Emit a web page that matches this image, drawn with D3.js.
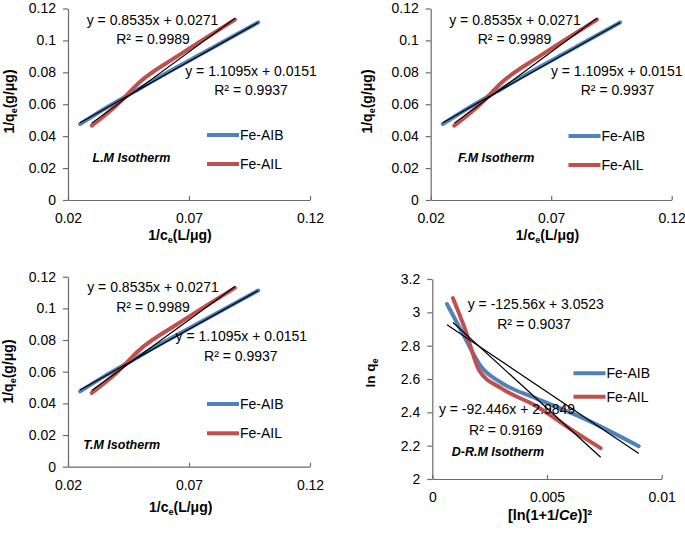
<!DOCTYPE html>
<html><head><meta charset="utf-8">
<script src="https://cdn.jsdelivr.net/npm/d3@7"></script>
<style>body{margin:0;background:#fff}text{font-family:"Liberation Sans",Arial,sans-serif;fill:#000}</style>
</head><body>
<svg id="c" width="685" height="533"></svg>
<script>
// ---------- data ----------
const seriesNames = ["Fe-AIB", "Fe-AIL"];
const seriesColors = ["#4F81BD", "#C0504D"];

const linXTicks = [0.02, 0.07, 0.12];
const linXTickLabels = ["0.02", "0.07", "0.12"];
const linYTicks = [0, 0.02, 0.04, 0.06, 0.08, 0.1, 0.12];
const linYTickLabels = ["0", "0.02", "0.04", "0.06", "0.08", "0.1", "0.12"];

const aibInvCe = [0.0250, 0.0360, 0.0470, 0.0600, 0.0750, 0.0986];
const aibInvQe = [0.0476, 0.0580, 0.0676, 0.0790, 0.0915, 0.1113];
const ailInvCe = [0.0298, 0.0400, 0.0498, 0.0649, 0.0745, 0.0890];
const ailInvQe = [0.0466, 0.0592, 0.0741, 0.0898, 0.0992, 0.1130];

const linTrendSlope = [0.8535, 1.1095];
const linTrendIntercept = [0.0271, 0.0151];
const linEqLabels = ["y = 0.8535x + 0.0271", "R\u00B2 = 0.9989", "y = 1.1095x + 0.0151", "R\u00B2 = 0.9937"];

const drXTicks = [0, 0.005, 0.01];
const drXTickLabels = ["0", "0.005", "0.01"];
const drYTicks = [2, 2.2, 2.4, 2.6, 2.8, 3, 3.2];
const drYTickLabels = ["2", "2.2", "2.4", "2.6", "2.8", "3", "3.2"];

const aibDrX = [0.00064, 0.00130, 0.00215, 0.00300, 0.00450, 0.00650, 0.00900];
const aibDrY = [3.050, 2.880, 2.670, 2.578, 2.485, 2.370, 2.197];
const ailDrX = [0.00090, 0.00140, 0.00205, 0.00300, 0.00450, 0.00630, 0.00734];
const ailDrY = [3.085, 2.910, 2.650, 2.545, 2.440, 2.275, 2.185];

const drTrendSlope = [-92.446, -125.56];
const drTrendIntercept = [2.9849, 3.0523];
const drEqLabels = ["y = -125.56x + 3.0523", "R\u00B2 = 0.9037", "y = -92.446x + 2.9849", "R\u00B2 = 0.9169"];

const panelTitles = ["L.M Isotherm", "F.M Isotherm", "T.M Isotherm", "D-R.M Isotherm"];

// ---------- drawing ----------
const svg = d3.select("#c");

function drawPanel(p) {
  const g = svg.append("g");
  const x = d3.scaleLinear().domain(p.xDom).range([p.x0, p.x1]);
  const y = d3.scaleLinear().domain(p.yDom).range([p.y0, p.y1]);

  const yAx = d3.axisLeft(y).tickValues(p.yTicks).tickSize(5).tickSizeOuter(0).tickPadding(7)
    .tickFormat((d, i) => p.yLabels[i]);
  const xAx = d3.axisBottom(x).tickValues(p.xTicks).tickSize(-4).tickSizeOuter(0).tickPadding(p.xPad)
    .tickFormat((d, i) => p.xLabels[i]);
  const ya = g.append("g").attr("transform", `translate(${p.x0},0)`).call(yAx);
  const xa = g.append("g").attr("transform", `translate(0,${p.y0})`).call(xAx);
  [ya, xa].forEach(a => {
    a.selectAll("path,line").attr("stroke", "#6b6b6b").attr("stroke-width", 1.2);
    a.selectAll("text").attr("font-size", 14).attr("fill", "#000")
      .style("font-family", '"Liberation Sans", Arial, sans-serif');
  });

  const line = d3.line().x(d => x(d[0])).y(d => y(d[1])).curve(d3.curveMonotoneX);
  p.series.forEach((s, i) => {
    const pts = s.xs.map((v, j) => [v, s.ys[j]]);
    g.append("path").attr("d", line(pts)).attr("fill", "none")
      .attr("stroke", seriesColors[i]).attr("stroke-width", 4)
      .attr("stroke-linecap", "round").attr("stroke-linejoin", "round");
  });
  p.series.forEach((s, i) => {
    const xa0 = d3.min(s.xs), xa1 = d3.max(s.xs);
    const f = v => p.slope[i] * v + p.intercept[i];
    g.append("line").attr("x1", x(xa0)).attr("y1", y(f(xa0)))
      .attr("x2", x(xa1)).attr("y2", y(f(xa1)))
      .attr("stroke", "#000").attr("stroke-width", 1.2);
  });

  p.eq.forEach((e, i) => {
    g.append("text").attr("x", e[0]).attr("y", e[1]).attr("text-anchor", "middle")
      .attr("font-size", 14).text(p.eqLabels[i]);
  });

  seriesNames.forEach((n, i) => {
    const ly = p.leg[1] + i * p.legGap;
    g.append("line").attr("x1", p.leg[0]).attr("x2", p.leg[0] + 32).attr("y1", ly).attr("y2", ly)
      .attr("stroke", seriesColors[i]).attr("stroke-width", 4);
    g.append("text").attr("x", p.leg[0] + 33).attr("y", ly + 5).attr("font-size", 14).text(n);
  });

  g.append("text").attr("x", p.title[0]).attr("y", p.title[1]).attr("font-size", 12.5)
    .attr("font-weight", "bold").attr("font-style", "italic").text(p.titleText);

  p.xTitle(g.append("text").attr("x", p.xt[0]).attr("y", p.xt[1]).attr("text-anchor", "middle")
    .attr("font-weight", "bold").attr("font-size", p.xTitleSize));
  p.yTitle(g.append("text").attr("transform", `translate(${p.yt[0]},${p.yt[1]}) rotate(-90)`)
    .attr("text-anchor", "middle").attr("font-weight", "bold").attr("font-size", p.yTitleSize));
}

function linXTitle(t) {
  t.append("tspan").text("1/c");
  t.append("tspan").attr("font-size", 9).attr("dy", 3).text("e");
  t.append("tspan").attr("dy", -3).text("(L/\u03BCg)");
}
function linYTitle(t) {
  t.append("tspan").text("1/q");
  t.append("tspan").attr("font-size", 9).attr("dy", 3).text("e");
  t.append("tspan").attr("dy", -3).text("(g/\u03BCg)");
}
function drXTitle(t) {
  t.append("tspan").text("[ln(1+1/");
  t.append("tspan").attr("font-style", "italic").text("Ce");
  t.append("tspan").text(")]\u00B2");
}
function drYTitle(t) {
  t.append("tspan").text("ln q");
  t.append("tspan").attr("font-size", 9).attr("dy", 3).text("e");
}

const linSeries = [{xs: aibInvCe, ys: aibInvQe}, {xs: ailInvCe, ys: ailInvQe}];
const linCommon = {
  xDom: [0.02, 0.12], yDom: [0, 0.12], xTicks: linXTicks, xLabels: linXTickLabels,
  yTicks: linYTicks, yLabels: linYTickLabels, series: linSeries,
  slope: linTrendSlope, intercept: linTrendIntercept, eqLabels: linEqLabels,
  xTitle: linXTitle, yTitle: linYTitle, xTitleSize: 14, yTitleSize: 14, xPad: 13.5, legGap: 29
};

drawPanel(Object.assign({}, linCommon, {
  x0: 68, x1: 310, y0: 200, y1: 8.5,
  eq: [[152.5, 24.5], [153, 44], [251, 75.5], [251, 95]],
  leg: [207, 135], title: [92.5, 161.5], titleText: panelTitles[0],
  xt: [180, 240], yt: [14, 101.5]
}));
drawPanel(Object.assign({}, linCommon, {
  x0: 430.7, x1: 671.7, y0: 200, y1: 8.5,
  eq: [[515, 24.5], [514.5, 44], [616.7, 75.5], [617.5, 95]],
  leg: [568.5, 136], title: [458, 161.5], titleText: panelTitles[1],
  xt: [547.5, 240], yt: [372, 101.5]
}));
drawPanel(Object.assign({}, linCommon, {
  x0: 68, x1: 310, y0: 466.7, y1: 276.7,
  eq: [[153, 292], [153, 312], [241.3, 340.5], [240.8, 360.5]],
  leg: [207, 404], legGap: 29.3, title: [83.3, 448.5], titleText: panelTitles[2],
  xt: [180.7, 511.5], yt: [13, 371.5]
}));
drawPanel({
  x0: 432.3, x1: 661.7, y0: 479, y1: 279,
  xDom: [0, 0.01], yDom: [2, 3.2], xTicks: drXTicks, xLabels: drXTickLabels,
  yTicks: drYTicks, yLabels: drYTickLabels,
  series: [{xs: aibDrX, ys: aibDrY}, {xs: ailDrX, ys: ailDrY}],
  slope: drTrendSlope, intercept: drTrendIntercept, eqLabels: drEqLabels,
  eq: [[535.8, 308.5], [534, 329], [507, 414], [505.8, 435]],
  leg: [573.5, 373.3], legGap: 23.4, title: [451.7, 455.5], titleText: panelTitles[3],
  xt: [550, 520], yt: [375, 373], xTitle: drXTitle, yTitle: drYTitle,
  xTitleSize: 14.5, yTitleSize: 13.5, xPad: 13
});
</script>
</body></html>
